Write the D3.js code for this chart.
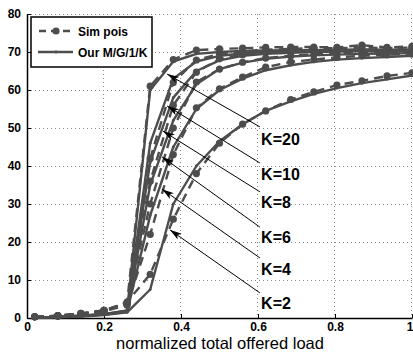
<!DOCTYPE html>
<html><head><meta charset="utf-8">
<script src="https://cdn.jsdelivr.net/npm/d3@7"></script>
<style>
html,body{margin:0;padding:0;background:#fff;}
svg{display:block;font-family:"Liberation Sans",Arial,Helvetica,sans-serif;}
</style></head>
<body><svg id="c" width="413" height="353"></svg>
<script>
// ---- data ----
const loads = [0.02,0.08,0.14,0.2,0.26,0.32,0.38,0.44,0.5,0.56,0.62,0.685,0.745,0.805,0.87,0.935,1.0];
const kLabels = ["K=20","K=10","K=8","K=6","K=4","K=2"];
const simK20 = [0.3,0.6,1.2,2,4,61,68,70.5,70.8,71,71.2,71.3,71.3,71.2,71.8,71.2,71.5];
const simK10 = [0.3,0.6,1.2,2,4,42,62,67.9,69.5,70.2,70.6,70.8,71,71,71.2,71,71.2];
const simK8  = [0.3,0.6,1.1,2,3.8,36,56,64.7,68.2,69.3,69.9,70.2,70.4,70.5,70.6,70.6,70.7];
const simK6  = [0.3,0.5,1.1,1.9,3.6,30,50,62.1,65.5,67.3,68.4,69,69.4,69.7,69.9,70,70.1];
const simK4  = [0.3,0.5,1,1.8,3.4,22,43,55.3,60.3,63.4,66,67.4,68,68.6,69,69.3,69.5];
const simK2  = [0.3,0.5,0.9,1.6,4.2,11.5,26,38,46,51,54.5,57.5,59.5,61.3,62.4,63.7,64.5];
const modK20 = [0.1,0.3,0.6,1,2,60,67.5,69.5,70,70.3,70.4,70.5,70.5,70.6,70.6,70.6,70.6];
const modK10 = [0.1,0.3,0.6,1,1.9,46,63,67.5,69,69.6,70,70.1,70.2,70.3,70.3,70.4,70.4];
const modK8  = [0.1,0.3,0.6,1,1.8,41,58,65,67.8,69,69.5,69.8,70,70.1,70.2,70.2,70.3];
const modK6  = [0.1,0.3,0.5,0.9,1.7,35,52,61.5,65.5,67.2,68.2,68.8,69.1,69.3,69.5,69.6,69.7];
const modK4  = [0.1,0.3,0.5,0.9,1.6,27,45,55,60,63,65.2,66.5,67.4,68,68.4,68.7,69];
const modK2  = [0.1,0.2,0.4,0.8,1.5,7.5,30,40,46.5,51,54.5,57,59,60.5,61.8,62.8,63.8];
const xTicks = [0,0.2,0.4,0.6,0.8,1];
const xTickLabels = ["0","0.2","0.4","0.6","0.8","1"];
const yTicks = [0,10,20,30,40,50,60,70,80];
const legendLabels = ["Sim pois","Our M/G/1/K"];
// annotation arrows in data units
const arrowTails = [[0.605,50.3],[0.605,40.8],[0.605,33.2],[0.605,23.9],[0.605,15.8],[0.605,6.6]];
const arrowTips  = [[0.364,64.2],[0.364,55.8],[0.353,49.2],[0.351,42.4],[0.351,33.9],[0.371,23.2]];
const labelPos   = [[0.608,45.6],[0.608,36.3],[0.608,28.9],[0.608,19.7],[0.608,11.3],[0.608,2.4]];

const simSeries = [simK20,simK10,simK8,simK6,simK4,simK2];
const modSeries = [modK20,modK10,modK8,modK6,modK4,modK2];

// ---- chart ----
const svg = d3.select("#c");
const L=27, R=412, T=14, B=318;
const x = d3.scaleLinear().domain([0,1]).range([L,R]);
const y = d3.scaleLinear().domain([0,80]).range([B,T]);
const col = "#4d4d4d";

// grid
const grid = svg.append("g").attr("stroke","#8a8a8a").attr("stroke-width",1).attr("stroke-dasharray","1,3");
grid.selectAll("line.gx").data(xTicks.slice(1)).join("line")
  .attr("x1",d=>Math.round(x(d))-0.5).attr("x2",d=>Math.round(x(d))-0.5).attr("y1",T).attr("y2",B);
grid.selectAll("line.gy").data(yTicks.slice(1)).join("line")
  .attr("y1",d=>Math.round(y(d))+0.5).attr("y2",d=>Math.round(y(d))+0.5).attr("x1",L).attr("x2",R);

// axes
const xAxis = d3.axisBottom(x).tickValues(xTicks).tickFormat((d,i)=>xTickLabels[i]).tickSizeInner(-4).tickSizeOuter(0).tickPadding(4);
const yAxis = d3.axisLeft(y).tickValues(yTicks).tickSizeInner(-4).tickSizeOuter(0).tickPadding(6);
const gx = svg.append("g").attr("transform",`translate(0,${B})`).call(xAxis);
const gy = svg.append("g").attr("transform",`translate(${L},0)`).call(yAxis);
[gx,gy].forEach(g=>{
  g.select(".domain").attr("stroke","#000").attr("stroke-width",1.5);
  g.selectAll(".tick line").attr("stroke","#000");
  g.selectAll(".tick text").attr("fill","#000").attr("font-size",12).attr("font-weight","bold")
    .attr("font-family","Liberation Sans, Arial, sans-serif");
});
gx.selectAll(".tick text").filter(d=>d===1).attr("text-anchor","end").attr("x",1);

// lines
const line = d3.line().x((d,i)=>x(loads[i])).y(d=>y(d));
const plot = svg.append("g");
modSeries.forEach(s=>{
  plot.append("path").datum(s).attr("d",line).attr("fill","none").attr("stroke",col).attr("stroke-width",2.4).attr("stroke-linejoin","round");
});
simSeries.forEach(s=>{
  plot.append("path").datum(s).attr("d",line).attr("fill","none").attr("stroke",col).attr("stroke-width",2.4).attr("stroke-dasharray","9,6");
  plot.append("g").selectAll("circle").data(s).join("circle")
    .attr("cx",(d,i)=>x(loads[i])).attr("cy",d=>y(d)).attr("r",3.6).attr("fill",col);
});
modSeries.forEach(s=>{
  plot.append("g").selectAll("circle").data(s).join("circle")
    .attr("cx",(d,i)=>x(loads[i])).attr("cy",d=>y(d)).attr("r",1.4).attr("fill",col);
});

// arrows
const defs = svg.append("defs");
defs.append("marker").attr("id","ah").attr("viewBox","0 0 12 8").attr("refX",12).attr("refY",4)
  .attr("markerWidth",12).attr("markerHeight",8).attr("markerUnits","userSpaceOnUse").attr("orient","auto")
  .append("path").attr("d","M0,0.5 L12,4 L0,7.5 L3,4 Z").attr("fill","#000");
const ann = svg.append("g");
kLabels.forEach((k,i)=>{
  ann.append("line").attr("x1",x(arrowTails[i][0])).attr("y1",y(arrowTails[i][1]))
    .attr("x2",x(arrowTips[i][0])).attr("y2",y(arrowTips[i][1]))
    .attr("stroke","#000").attr("stroke-width",1).attr("marker-end","url(#ah)");
  ann.append("text").attr("x",x(labelPos[i][0])).attr("y",y(labelPos[i][1]))
    .attr("font-size",16).attr("font-weight","bold").attr("fill","#000").text(k);
});

// legend
const lg = svg.append("g");
lg.append("rect").attr("x",31).attr("y",17).attr("width",121).attr("height",50)
  .attr("fill","#fff").attr("stroke","#000").attr("stroke-width",1.5);
lg.append("line").attr("x1",38).attr("x2",73).attr("y1",31).attr("y2",31)
  .attr("stroke",col).attr("stroke-width",2.4).attr("stroke-dasharray","7,5").attr("stroke-dashoffset",-1);
lg.append("circle").attr("cx",56).attr("cy",31).attr("r",3.6).attr("fill",col);
lg.append("line").attr("x1",38).attr("x2",73).attr("y1",52).attr("y2",52)
  .attr("stroke",col).attr("stroke-width",2.4);
lg.append("circle").attr("cx",56).attr("cy",52).attr("r",1.4).attr("fill",col);
legendLabels.forEach((t,i)=>{
  lg.append("text").attr("x",78).attr("y",[35.5,56.5][i]).attr("font-size",12).attr("font-weight","bold").attr("fill","#000").text(t);
});

// x-axis title
svg.append("text").attr("x",220).attr("y",349).attr("text-anchor","middle")
  .attr("font-size",16.5).attr("fill","#000").text("normalized total offered load");
</script></body></html>
